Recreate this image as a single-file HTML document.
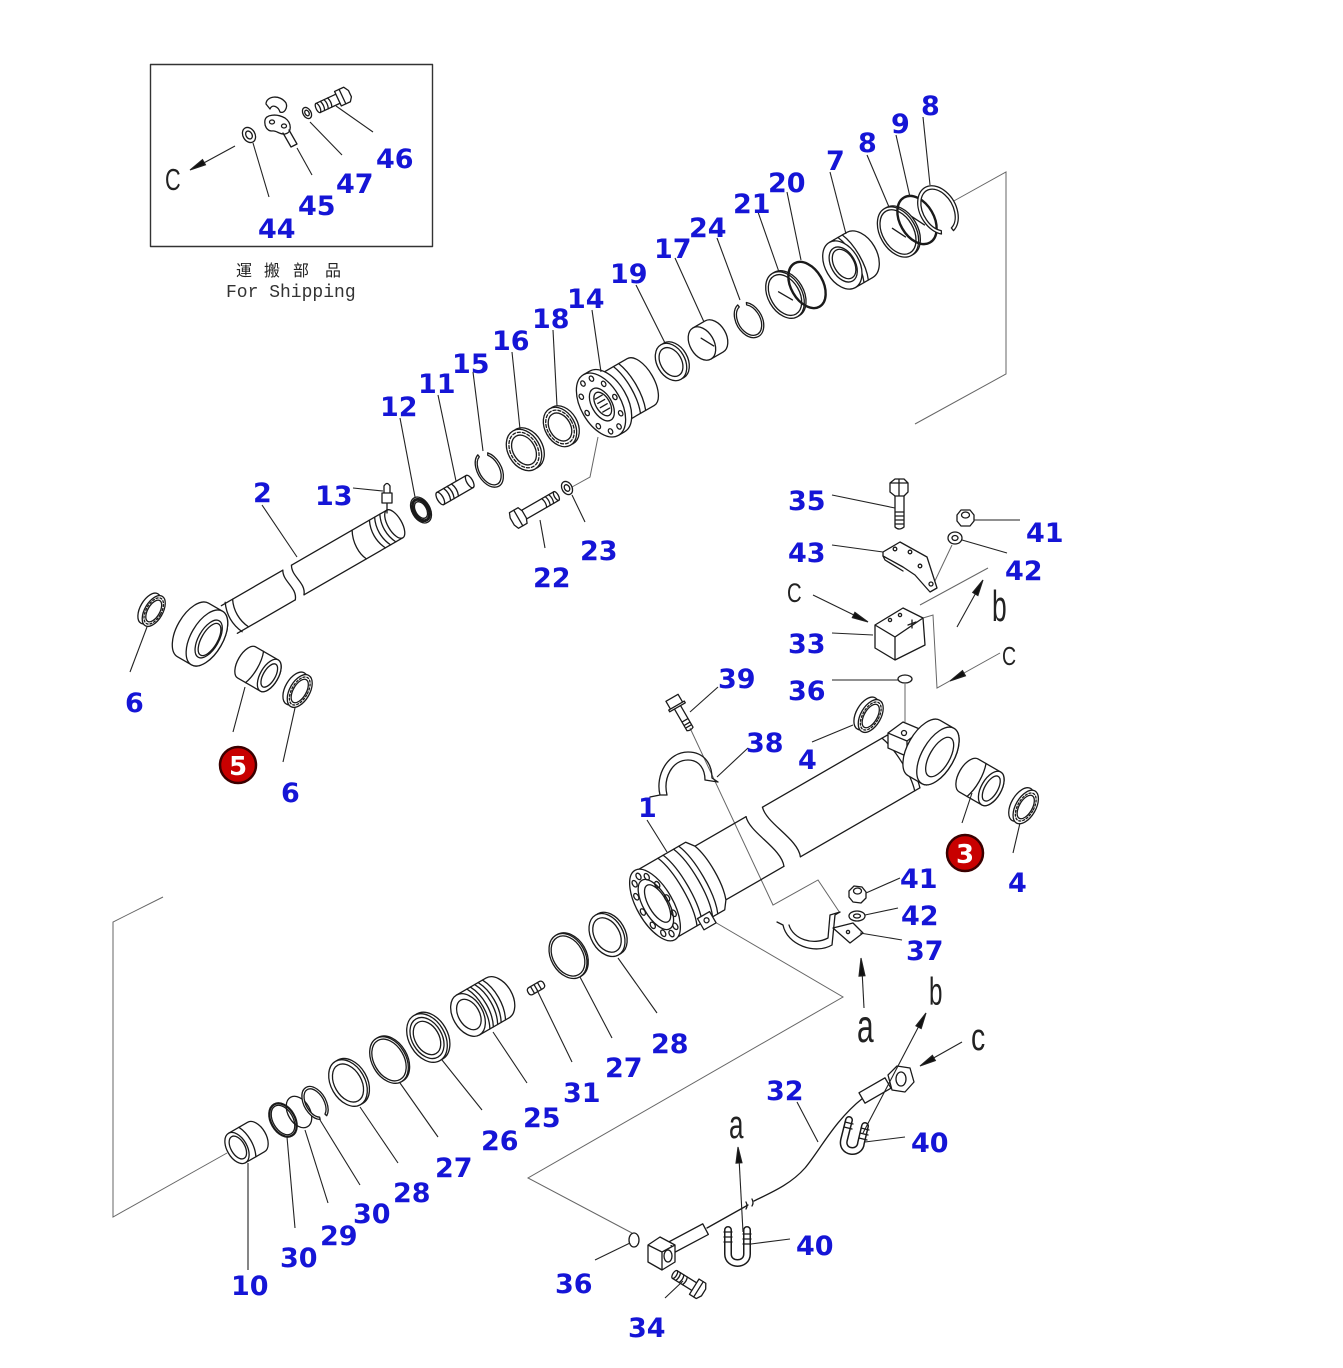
<!DOCTYPE html>
<html><head><meta charset="utf-8"><style>
html,body{margin:0;padding:0;background:#fff;}
svg{display:block}
.l{font-family:"DejaVu Sans","Liberation Sans",sans-serif;font-weight:bold;font-size:27px;fill:#1515d6}
.k{font-family:"Liberation Sans",sans-serif;fill:#222}
</style></head><body>
<svg width="1343" height="1368" viewBox="0 0 1343 1368" xmlns="http://www.w3.org/2000/svg">
<rect width="1343" height="1368" fill="#fff"/>

<!-- frame lines -->
<g fill="none" stroke="#666" stroke-width="1">
<polyline points="952,202 1006,172 1006,374 915,424"/>
<polyline points="598,437 590,477 572,487"/>
<polyline points="952,545 933,585"/>
<polyline points="988,568 920,605"/>
<polyline points="923,618 933,615 937,688 1000,653"/>
<polyline points="905,684 905,722"/>
<polyline points="690,728 773,905 818,880 840,913"/>
<polyline points="708,918 843,997 528,1178 632,1233"/>
<polyline points="163,897 113,922 113,1217 227,1153"/>
</g>

<g fill="none" stroke="#1a1a1a" stroke-width="1.3" stroke-linecap="round" stroke-linejoin="round">
<!-- inset -->
<rect x="150.5" y="64.5" width="282" height="182" stroke="#333" stroke-width="1.4"/>
<g transform="translate(249,135) rotate(-30)"><ellipse rx="6" ry="8"/><ellipse rx="3" ry="4.2"/></g>
<path d="M266,104 C266,96 280,94 286,103 C288,108 284,114 280,112 C278,106 272,104 270,109 Z"/>
<path d="M265,120 C266,115 276,113 285,118 C292,123 292,133 285,134 C280,135 276,130 272,131 C267,131 264,126 265,120 Z"/>
<ellipse cx="272" cy="122" rx="2.5" ry="2"/><ellipse cx="284" cy="126" rx="2.5" ry="2"/>
<path d="M283,133 L291,147 L297,144 L289,130"/>
<g transform="translate(307,113) rotate(-30)"><ellipse rx="4" ry="6"/><ellipse rx="2" ry="3"/></g>
<g transform="translate(318,108) rotate(-25)"><path d="M0,-5 L22,-5 M0,5 L22,5"/><ellipse rx="2" ry="5"/><path d="M5,-5 q2,5 0,10 M9,-5 q2,5 0,10 M13,-5 q2,5 0,10"/><path d="M22,-8 L32,-8 L35,-3 L35,4 L32,8 L22,8 Z" fill="#fff"/><path d="M27,-8 L27,8"/></g>

<!-- rod 2 shaft -->
<g transform="translate(225,622) rotate(-30)">
<path d="M5,-16 L76,-16 M5,16 L72,16"/>
<path d="M76,-16 C70,-6 80,6 72,16"/>
<path d="M86,-16 C80,-6 90,6 82,16"/>
<path d="M86,-16 L196,-16 M82,16 L196,16"/>
<path d="M156,-16 C150,-5 150,8 154,16"/>
<path d="M176,-16 C171,-6 171,6 176,16 M182,-16 C177,-6 177,6 182,16 M188,-16 C183,-6 183,6 188,16"/>
<ellipse cx="196" rx="7" ry="16" fill="#fff"/>
<path d="M10,-17 C5,-6 5,6 10,17 M18,-16 C13,-6 13,6 18,16"/>
</g>
<!-- rod eye -->
<g transform="translate(200,634) rotate(30)">
<path d="M-8,-31 A16,31 0 0 0 -8,31 L8,31 A16,31 0 0 0 8,-31 Z" fill="#fff"/>
<ellipse cx="8" rx="16" ry="31" fill="#fff"/>
<ellipse cx="10" rx="10" ry="21"/>
<ellipse cx="11" rx="8" ry="18"/>
</g>
<!-- 13 nipple -->
<path d="M384,493 L384,486 Q387,481 390,486 L390,493 M382,493 L392,493 L392,503 L382,503 Z M387,503 L387,513"/>
<!-- 6 left -->
<g transform="translate(152,610) rotate(30)"><ellipse cx="-3" rx="9" ry="17"/><ellipse cx="2" rx="9" ry="17" fill="#fff"/><ellipse cx="2" rx="6" ry="12"/><ellipse cx="2" rx="7.5" ry="14.5" stroke-dasharray="2 2"/></g>
<!-- 5 bushing -->
<g transform="translate(258,669) rotate(30)">
<path d="M-13,-18 A9,18 0 0 0 -13,18 L13,18 A9,18 0 0 0 13,-18 Z" fill="#fff"/>
<ellipse cx="13" rx="9" ry="18" fill="#fff"/><ellipse cx="13" rx="6" ry="13"/>
<path d="M-4,-18 C0,-8 0,8 -4,18"/>
</g>
<!-- 6 lower -->
<g transform="translate(298,690) rotate(30)"><ellipse cx="-3" rx="10" ry="18"/><ellipse cx="2" rx="10" ry="18" fill="#fff"/><ellipse cx="2" rx="6.5" ry="13"/><ellipse cx="2" rx="8" ry="15.5" stroke-dasharray="2 2"/></g>

<!-- 12 toothed ring -->
<g transform="translate(421,510) rotate(-30)"><ellipse rx="9" ry="14"/><ellipse rx="5.5" ry="9"/><ellipse rx="7.3" ry="11.5" stroke-width="3" stroke-dasharray="2 1.6"/></g>
<!-- 11 pin -->
<g transform="translate(455,490) rotate(-30)"><path d="M-17,-7 L17,-7 M-17,7 L17,7"/><ellipse cx="-17" rx="3" ry="7"/><ellipse cx="17" rx="3" ry="7"/><path d="M-9,-7 q3,7 0,14 M-5,-7 q3,7 0,14 M0,-7 q3,7 0,14"/></g>
<!-- 15 snap -->
<g transform="translate(489,470) rotate(-30)"><path d="M7.5,-15.5 A12,19 0 1 1 -2.1,-18.7 L-1.8,-16.3 A10,16.5 0 1 0 6.3,-13.4 Z"/></g>
<!-- 16 -->
<g transform="translate(524,450) rotate(-30)"><ellipse cx="3" rx="16" ry="22"/><ellipse rx="16" ry="22" fill="#fff"/><ellipse rx="11" ry="16"/><ellipse rx="13.5" ry="19" stroke-dasharray="3 2"/></g>
<!-- 18 -->
<g transform="translate(560,427) rotate(-30)"><ellipse cx="3" rx="15" ry="21"/><ellipse rx="15" ry="21" fill="#fff"/><ellipse rx="10.5" ry="15"/><ellipse rx="12.8" ry="18" stroke-dasharray="3 2"/></g>
<!-- 14 head -->
<g transform="translate(601,405) rotate(-30)">
<path d="M0,-27 L46,-27 A13,27 0 0 1 46,27 L0,27 Z" fill="#fff"/>
<path d="M30,-27 C36,-12 36,12 30,27 M36,-27 C42,-12 42,12 36,27"/>
<path d="M0,-35 L7,-35 A20,35 0 0 1 7,35 L0,35 Z" fill="#fff"/>
<ellipse rx="20" ry="35" fill="#fff"/>
<ellipse cx="1" rx="10" ry="18"/><ellipse cx="2" rx="7" ry="13"/>
<path d="M-2,-8 L6,-8 M-2,-3 L6,-3 M-2,2 L6,2 M-2,7 L6,7"/>
<g fill="none"><ellipse cx="16" cy="0" rx="2" ry="2.8"/><ellipse cx="12.9" cy="17" rx="2" ry="2.8"/><ellipse cx="4.9" cy="27.6" rx="2" ry="2.8"/><ellipse cx="-4.9" cy="27.6" rx="2" ry="2.8"/><ellipse cx="-12.9" cy="17" rx="2" ry="2.8"/><ellipse cx="-16" cy="0" rx="2" ry="2.8"/><ellipse cx="-12.9" cy="-17" rx="2" ry="2.8"/><ellipse cx="-4.9" cy="-27.6" rx="2" ry="2.8"/><ellipse cx="4.9" cy="-27.6" rx="2" ry="2.8"/><ellipse cx="12.9" cy="-17" rx="2" ry="2.8"/></g>
</g>
<!-- 22 bolt -->
<g transform="translate(520,517) rotate(-30)">
<path d="M2,-5 L42,-5 M2,5 L42,5"/><ellipse cx="42" rx="2" ry="5"/>
<path d="M28,-5 q2,5 0,10 M32,-5 q2,5 0,10 M36,-5 q2,5 0,10"/>
<path d="M-7,-9 L3,-9 L5,-4 L5,4 L3,9 L-7,9 L-9,4 L-9,-4 Z" fill="#fff"/><path d="M-2,-9 L-2,9"/>
</g>
<g transform="translate(567,488) rotate(-30)"><ellipse rx="5" ry="7"/><ellipse rx="2.5" ry="3.5"/></g>
<!-- 19 -->
<g transform="translate(671,362) rotate(-30)"><ellipse cx="3" rx="14" ry="20"/><ellipse rx="14" ry="20" fill="#fff"/><ellipse rx="10.5" ry="15.5"/></g>
<!-- 17 bushing -->
<g transform="translate(708,340) rotate(-30)"><path d="M-7,-18 L7,-18 A12,18 0 0 1 7,18 L-7,18 Z" fill="#fff"/><ellipse cx="-7" rx="12" ry="18" fill="#fff"/><path d="M-5,-5 L2,8"/></g>
<!-- 24 snap -->
<g transform="translate(749,320) rotate(-30)"><path d="M6.5,-16.5 A13,19 0 1 1 -2.3,-18.7 L-1.9,-16.2 A11,16.5 0 1 0 5.5,-14.3 Z"/></g>
<!-- 21 -->
<g transform="translate(785,295) rotate(-30)"><ellipse cx="2" rx="17" ry="25"/><ellipse rx="17" ry="25" fill="#fff"/><ellipse rx="14.5" ry="22"/><path d="M-4,-6 L4,8"/></g>
<!-- 20 -->
<g transform="translate(807,285) rotate(-30)"><ellipse rx="16" ry="25" stroke-width="2.4"/></g>
<!-- 7 seal -->
<g transform="translate(851,260) rotate(-30)">
<path d="M-10,-26 L10,-26 A17,26 0 0 1 10,26 L-10,26 Z" fill="#fff"/>
<path d="M-5,-26 C1,-12 1,12 -5,26 M0,-26 C6,-12 6,12 0,26 M5,-26 C11,-12 11,12 5,26"/>
<ellipse cx="-10" rx="17" ry="26" fill="#fff"/><ellipse cx="-9" rx="12" ry="19"/><ellipse cx="-8" rx="10" ry="16"/>
</g>
<!-- 8 -->
<g transform="translate(898,232) rotate(-30)"><ellipse cx="2" rx="18" ry="27"/><ellipse rx="18" ry="27" fill="#fff"/><ellipse rx="15.5" ry="24"/><path d="M-3,-6 L4,8"/></g>
<!-- 9 -->
<g transform="translate(917,220) rotate(-30)"><ellipse rx="17" ry="26" stroke-width="2.4"/><path d="M-3,-6 L4,8"/></g>
<!-- 8 top snap -->
<g transform="translate(938,210) rotate(-30)"><path d="M-9,22.5 A18,26 0 1 1 3.1,25.6 L2.6,22.2 A15,22.5 0 1 0 -7.5,19.5 Z" fill="#fff"/></g>

<!-- 35 bolt -->
<path d="M890,483 L895,479 L904,479 L908,483 L908,492 L904,496 L895,496 L890,492 Z M890,483 L908,483 M899,479 L899,496" fill="#fff"/>
<path d="M895,496 L895,527 Q899,531 904,527 L904,496 M895,512 L904,512 M895,516 L904,516 M895,520 L904,520 M895,524 L904,524"/>
<!-- 41 nut -->
<path d="M957,515 L961,510 L970,510 L974,515 L974,521 L970,526 L961,526 L957,521 Z" fill="#fff"/><ellipse cx="965.5" cy="515" rx="4" ry="3"/>
<!-- 42 washer -->
<ellipse cx="955" cy="538" rx="7" ry="6"/><ellipse cx="955" cy="538" rx="3" ry="2.5"/>
<!-- 43 bracket -->
<path d="M883,552 L900,542 L927,557 L937,588 L930,592 L915,575 L903,567 L883,556 Z" fill="#fff"/>
<path d="M883,556 L885,560 L903,571"/>
<circle cx="895" cy="549" r="1.8"/><circle cx="910" cy="552" r="1.8"/><circle cx="920" cy="566" r="1.8"/><circle cx="931" cy="584" r="2"/>
<!-- 33 box -->
<path d="M875,625 L903,608 L923,618 L895,637 Z M875,625 L875,648 L895,660 L895,637 M895,660 L925,645 L923,618" fill="#fff"/>
<circle cx="890" cy="620" r="1.6"/><circle cx="900" cy="615" r="1.6"/><path d="M908,625 L916,622 M912,620 L912,628"/>
<ellipse cx="905" cy="679" rx="7" ry="4"/>
<!-- 4 upper -->
<g transform="translate(869,715) rotate(30)"><ellipse cx="-3" rx="10" ry="18"/><ellipse cx="2" rx="10" ry="18" fill="#fff"/><ellipse cx="2" rx="6.5" ry="13"/><ellipse cx="2" rx="8" ry="15.5" stroke-dasharray="2 2"/></g>

<!-- 39 bolt -->
<g transform="translate(675,703) rotate(60)">
<path d="M5,-3.5 L30,-3.5 M5,3.5 L30,3.5 M30,-3.5 Q32,0 30,3.5 M20,-3.5 L20,3.5 M24,-3.5 L24,3.5 M27,-3.5 L27,3.5"/>
<path d="M-6,-7 L3,-7 L3,7 L-6,7 Z M3,-9 L5,-9 L5,9 L3,9 Z" fill="#fff"/>
</g>
<!-- 38 clamp -->
<path d="M660,795 C655,775 668,752 688,752 C705,752 712,765 712,778 M667,795 C663,778 672,760 688,760 C700,760 705,770 705,780 M660,795 L650,797 M667,795 L660,795 M705,780 L718,782 M712,778 L718,782"/>

<!-- cylinder 1 -->
<g transform="translate(655,905) rotate(-30)">
<path d="M142,-31 L286,-31 M150,31 L288,31"/>
<path d="M142,-31 C137,-15 157,14 150,31"/>
<path d="M62,-31 L123,-31 M62,31 L131,31"/>
<path d="M123,-31 C118,-15 138,14 131,31"/>
<path d="M0,-39 L58,-39 L64,-31 C70,-15 70,15 64,31 L58,39 L0,39 Z" fill="#fff"/>
<path d="M26,-39 C34,-20 34,20 26,39 M32,-39 C40,-20 40,20 32,39 M44,-39 C52,-20 52,20 44,39 M50,-39 C58,-20 58,20 50,39"/>
<ellipse rx="18" ry="40" fill="#fff"/>
<ellipse cx="1" rx="12.5" ry="28"/>
<ellipse cx="3" rx="9" ry="21"/>
<g><ellipse cx="14" cy="0" rx="2.2" ry="3.5"/><ellipse cx="12.1" cy="16.5" rx="2.2" ry="3.5"/><ellipse cx="7" cy="28.6" rx="2.2" ry="3.5"/><ellipse cx="0" cy="33" rx="2.2" ry="3.5"/><ellipse cx="-7" cy="28.6" rx="2.2" ry="3.5"/><ellipse cx="-12.1" cy="16.5" rx="2.2" ry="3.5"/><ellipse cx="-14" cy="0" rx="2.2" ry="3.5"/><ellipse cx="-12.1" cy="-16.5" rx="2.2" ry="3.5"/><ellipse cx="-7" cy="-28.6" rx="2.2" ry="3.5"/><ellipse cx="0" cy="-33" rx="2.2" ry="3.5"/><ellipse cx="7" cy="-28.6" rx="2.2" ry="3.5"/><ellipse cx="12.1" cy="-16.5" rx="2.2" ry="3.5"/></g>
<path d="M30,33 L44,33 L44,46 L30,46 Z" fill="#fff"/><circle cx="37" cy="39" r="2.5"/>
<path d="M280,-31 C286,-15 287,15 282,31 M286,-31 C292,-15 293,15 288,31"/>
</g>
<!-- cylinder eye -->
<path d="M888,733 L903,722 L922,730 L922,746 L906,756 L888,748 Z" fill="#fff"/>
<path d="M888,733 L907,741 L922,730 M907,741 L907,756"/><circle cx="904" cy="733" r="2.5"/>
<g transform="translate(931,752) rotate(30)">
<path d="M-8,-32 A16,32 0 0 0 -8,32 L8,32 A16,32 0 0 0 8,-32 Z" fill="#fff"/>
<ellipse cx="8" rx="16" ry="32" fill="#fff"/>
<ellipse cx="10" rx="10" ry="22"/>
</g>
<!-- 3 bushing -->
<g transform="translate(980,782) rotate(30)">
<path d="M-13,-19 A10,19 0 0 0 -13,19 L13,19 A10,19 0 0 0 13,-19 Z" fill="#fff"/>
<ellipse cx="13" rx="10" ry="19" fill="#fff"/><ellipse cx="13" rx="6.5" ry="14"/>
<path d="M-4,-19 C0,-8 0,8 -4,19"/>
</g>
<!-- 4 lower -->
<g transform="translate(1024,806) rotate(30)"><ellipse cx="-3" rx="10" ry="18.5"/><ellipse cx="2" rx="10" ry="18.5" fill="#fff"/><ellipse cx="2" rx="6.5" ry="13"/><ellipse cx="2" rx="8" ry="15.5" stroke-dasharray="2 2"/></g>
<!-- 41 lower nut -->
<path d="M849,891 L854,886 L862,887 L866,892 L866,898 L861,903 L853,902 L849,897 Z" fill="#fff"/><ellipse cx="857.5" cy="891" rx="4" ry="3"/>
<ellipse cx="857" cy="916" rx="8" ry="5"/><ellipse cx="857" cy="916" rx="3.5" ry="2"/>
<!-- 37 clamp -->
<path d="M783,925 C787,945 815,955 832,945 L835,915 M789,925 C793,939 813,946 828,938 L830,915 M783,925 L777,922 M830,915 L840,912 M835,915 L840,912"/>
<path d="M833,928 L853,923 L863,933 L850,943 Z" fill="#fff"/><circle cx="848" cy="932" r="1.6"/>

<!-- bottom rings -->
<g transform="translate(237,1148) rotate(-30)">
<path d="M0,-17 L22,-17 A10,17 0 0 1 22,17 L0,17 Z" fill="#fff"/>
<path d="M12,-17 C17,-7 17,7 12,17"/>
<ellipse rx="10" ry="17" fill="#fff"/><ellipse cx="1" rx="7" ry="12.5"/>
</g>
<g transform="translate(283,1120) rotate(-30)"><ellipse rx="12" ry="18" stroke-width="2.2"/><ellipse rx="10" ry="16"/></g>
<g transform="translate(299,1112) rotate(-30)"><ellipse rx="11" ry="17"/></g>
<g transform="translate(315,1103) rotate(-30)"><path d="M-3.8,16.9 A11,18 0 1 1 3.8,16.9 L3.1,14.6 A9,15.5 0 1 0 -3.1,14.6 Z" fill="#fff"/></g>
<g transform="translate(348,1083) rotate(-30)"><ellipse cx="2.5" rx="17" ry="25"/><ellipse rx="17" ry="25" fill="#fff"/><ellipse rx="13.5" ry="20.5"/></g>
<g transform="translate(389,1060) rotate(-30)"><ellipse cx="1.5" rx="17" ry="25"/><ellipse rx="17" ry="25" fill="#fff"/><ellipse rx="15" ry="22.5"/></g>
<g transform="translate(427,1038) rotate(-30)"><ellipse cx="3" rx="18" ry="26"/><ellipse rx="18" ry="26" fill="#fff"/><ellipse rx="15" ry="22"/><ellipse rx="12" ry="18"/></g>
<g transform="translate(468,1015) rotate(-30)">
<path d="M0,-23 L34,-23 A15,23 0 0 1 34,23 L0,23 Z" fill="#fff"/>
<path d="M12,-23 C19,-10 19,10 12,23 M16,-23 C23,-10 23,10 16,23 M21,-23 C28,-10 28,10 21,23 M25,-23 C32,-10 32,10 25,23 M30,-23 C37,-10 37,10 30,23"/>
<ellipse rx="15" ry="23" fill="#fff"/><ellipse cx="1" rx="10.5" ry="16.5"/>
</g>
<g transform="translate(536,988) rotate(-30)"><rect x="-9" y="-4" width="18" height="8" rx="3"/><path d="M-4,-4 L-4,4 M0,-4 L0,4 M4,-4 L4,4"/></g>
<g transform="translate(568,956) rotate(-30)"><ellipse cx="1.5" rx="17" ry="24"/><ellipse rx="17" ry="24" fill="#fff"/><ellipse rx="15" ry="21.5"/></g>
<g transform="translate(607,935) rotate(-30)"><ellipse cx="2.5" rx="16" ry="23"/><ellipse rx="16" ry="23" fill="#fff"/><ellipse rx="12.5" ry="18.5"/></g>

<!-- hose 32 -->
<path d="M707,1228 L748,1205 M754,1201 C770,1193 790,1185 805,1168 C820,1150 835,1120 863,1098"/>
<path d="M746,1209 q2,-3 0,-7 M752,1206 q2,-3 0,-7"/>
<g transform="translate(672,1247) rotate(-28)"><rect x="0" y="-6" width="38" height="12" fill="#fff"/></g>
<path d="M648,1245 L660,1237 L675,1245 L675,1262 L662,1270 L648,1262 Z M648,1245 L662,1252 L675,1245 M662,1252 L662,1270" fill="#fff"/>
<ellipse cx="668" cy="1256" rx="4" ry="6"/>
<g transform="translate(862,1098) rotate(-30)"><rect x="0" y="-6" width="30" height="12" fill="#fff"/></g>
<path d="M888,1075 L897,1066 L910,1068 L914,1082 L905,1092 L892,1090 Z" fill="#fff"/><ellipse cx="901" cy="1079" rx="5" ry="7"/>
<ellipse cx="634" cy="1240" rx="5" ry="7"/>
<!-- 40 fittings -->
<path d="M728,1230 L728,1254 C728,1266 747,1266 747,1254 L747,1230" stroke-width="8"/>
<path d="M728,1230 L728,1254 C728,1266 747,1266 747,1254 L747,1230" stroke="#fff" stroke-width="5"/>
<path d="M724,1232 L732,1232 M724,1237 L732,1237 M724,1242 L732,1242 M743,1234 L751,1234 M743,1239 L751,1239 M743,1244 L751,1244"/>
<path d="M849,1120 L844,1140 C841,1153 860,1155 861,1143 L865,1126" stroke-width="8"/>
<path d="M849,1120 L844,1140 C841,1153 860,1155 861,1143 L865,1126" stroke="#fff" stroke-width="5"/>
<path d="M845,1122 L853,1124 M844,1127 L852,1129 M861,1128 L869,1130 M860,1133 L868,1135 M859,1138 L867,1140"/>
<!-- 34 bolt -->
<g transform="translate(690,1284) rotate(32)">
<path d="M-18,-4.5 L5,-4.5 M-18,4.5 L5,4.5" /><ellipse cx="-18" rx="2" ry="4.5"/>
<path d="M-14,-4.5 q2,4.5 0,9 M-10,-4.5 q2,4.5 0,9 M-6,-4.5 q2,4.5 0,9"/>
<path d="M5,-9 L13,-9 L16,-4 L16,4 L13,9 L5,9 Z" fill="#fff"/><path d="M10,-9 L10,9"/>
</g>
</g>

<!-- leaders -->
<g stroke="#222" stroke-width="1.1" fill="none">
<line x1="253" y1="143" x2="269" y2="197"/><line x1="297" y1="148" x2="312" y2="175"/><line x1="310" y1="122" x2="342" y2="155"/><line x1="336" y1="106" x2="373" y2="132"/>
<line x1="923" y1="117" x2="930" y2="185"/><line x1="896" y1="135" x2="910" y2="197"/><line x1="867" y1="155" x2="889" y2="207"/><line x1="830" y1="172" x2="846" y2="234"/><line x1="787" y1="192" x2="801" y2="260"/><line x1="758" y1="212" x2="779" y2="272"/><line x1="717" y1="238" x2="740" y2="300"/><line x1="675" y1="258" x2="704" y2="322"/><line x1="636" y1="285" x2="665" y2="343"/><line x1="592" y1="310" x2="601" y2="372"/><line x1="553" y1="330" x2="557" y2="406"/><line x1="512" y1="352" x2="520" y2="429"/><line x1="473" y1="372" x2="483" y2="451"/><line x1="438" y1="395" x2="456" y2="481"/><line x1="400" y1="418" x2="415" y2="497"/>
<line x1="353" y1="488" x2="383" y2="491"/><line x1="262" y1="505" x2="297" y2="557"/><line x1="540" y1="520" x2="545" y2="548"/><line x1="572" y1="495" x2="585" y2="522"/>
<line x1="147" y1="627" x2="130" y2="672"/><line x1="245" y1="687" x2="233" y2="732"/><line x1="295" y1="708" x2="283" y2="762"/>
<line x1="832" y1="495" x2="895" y2="508"/><line x1="974" y1="520" x2="1020" y2="520"/><line x1="962" y1="540" x2="1007" y2="553"/><line x1="832" y1="545" x2="883" y2="552"/><line x1="832" y1="633" x2="873" y2="635"/><line x1="832" y1="680" x2="898" y2="680"/>
<line x1="718" y1="687" x2="690" y2="712"/><line x1="748" y1="748" x2="717" y2="777"/><line x1="812" y1="742" x2="853" y2="725"/><line x1="647" y1="820" x2="667" y2="852"/><line x1="972" y1="793" x2="962" y2="823"/><line x1="1020" y1="823" x2="1013" y2="853"/><line x1="866" y1="893" x2="900" y2="878"/><line x1="865" y1="915" x2="898" y2="908"/><line x1="860" y1="933" x2="902" y2="940"/>
<line x1="248" y1="1163" x2="248" y2="1270"/><line x1="287" y1="1137" x2="295" y2="1228"/><line x1="305" y1="1130" x2="328" y2="1203"/><line x1="320" y1="1120" x2="360" y2="1185"/><line x1="360" y1="1107" x2="398" y2="1163"/><line x1="400" y1="1083" x2="438" y2="1137"/><line x1="442" y1="1060" x2="482" y2="1110"/><line x1="493" y1="1032" x2="527" y2="1083"/><line x1="537" y1="990" x2="572" y2="1062"/><line x1="580" y1="977" x2="612" y2="1038"/><line x1="618" y1="958" x2="657" y2="1013"/>
<line x1="797" y1="1102" x2="818" y2="1142"/><line x1="865" y1="1142" x2="905" y2="1137"/><line x1="751" y1="1244" x2="790" y2="1239"/><line x1="595" y1="1260" x2="630" y2="1243"/><line x1="665" y1="1298" x2="683" y2="1281"/>
</g>

<!-- arrows -->
<g stroke="#222" stroke-width="1.1">
<line x1="235" y1="146" x2="200" y2="165"/><polygon points="190,170 205.5,164.8 202.5,159.6" fill="#111"/>
<line x1="813" y1="595" x2="858" y2="617"/><polygon points="868,622 852.3,617.7 854.9,612.3" fill="#111"/>
<line x1="957" y1="627" x2="978" y2="589"/><polygon points="983,580 977.9,595.5 972.7,592.5" fill="#111"/>
<polygon points="950,681 965.5,675.8 962.5,670.6" fill="#111"/>
<line x1="864" y1="1008" x2="862" y2="970"/><polygon points="861,958 865,975.8 859,976.2" fill="#111"/>
<line x1="863" y1="1133" x2="921" y2="1022"/><polygon points="926,1013 921.2,1028.6 915.9,1025.8" fill="#111"/>
<line x1="962" y1="1042" x2="930" y2="1060"/><polygon points="920,1066 935.4,1060.6 932.4,1055.4" fill="#111"/>
<line x1="743" y1="1232" x2="739" y2="1158"/><polygon points="738,1147 742,1162.8 736,1163.2" fill="#111"/>
</g>

<!-- black letters -->
<text class="k" transform="translate(165,190) scale(0.7,1)" font-size="31">C</text>
<text class="k" transform="translate(787,602) scale(0.75,1)" font-size="27">C</text>
<text class="k" transform="translate(992,621) scale(0.6,1)" font-size="44">b</text>
<text class="k" transform="translate(1002,665) scale(0.75,1)" font-size="26">C</text>
<text class="k" transform="translate(857,1042) scale(0.65,1)" font-size="46">a</text>
<text class="k" transform="translate(929,1005) scale(0.62,1)" font-size="39">b</text>
<text class="k" transform="translate(971,1050) scale(0.75,1)" font-size="38">c</text>
<text class="k" transform="translate(729,1138) scale(0.65,1)" font-size="40">a</text>

<text class="k" x="236" y="276" font-size="16" font-family="'Liberation Sans','Noto Sans CJK JP',sans-serif">運</text>
<text class="k" x="264" y="276" font-size="16" font-family="'Liberation Sans','Noto Sans CJK JP',sans-serif">搬</text>
<text class="k" x="293" y="276" font-size="16" font-family="'Liberation Sans','Noto Sans CJK JP',sans-serif">部</text>
<text class="k" x="325" y="276" font-size="16" font-family="'Liberation Sans','Noto Sans CJK JP',sans-serif">品</text>
<text x="226" y="297" font-size="18" fill="#333" font-family="'Liberation Mono',monospace">For Shipping</text>

<!-- blue labels -->
<g class="l">
<text x="376" y="168">46</text><text x="336" y="193">47</text><text x="298" y="215">45</text><text x="258" y="238">44</text>
<text x="921" y="115">8</text><text x="891" y="133">9</text><text x="858" y="152">8</text><text x="826" y="170">7</text>
<text x="768" y="192">20</text><text x="733" y="213">21</text><text x="689" y="237">24</text><text x="654" y="258">17</text>
<text x="610" y="283">19</text><text x="567" y="308">14</text><text x="532" y="328">18</text><text x="492" y="350">16</text>
<text x="452" y="373">15</text><text x="418" y="393">11</text><text x="380" y="416">12</text>
<text x="253" y="502">2</text><text x="315" y="505">13</text><text x="533" y="587">22</text><text x="580" y="560">23</text>
<text x="125" y="712">6</text><text x="281" y="802">6</text>
<text x="788" y="510">35</text><text x="1026" y="542">41</text><text x="788" y="562">43</text><text x="1005" y="580">42</text>
<text x="788" y="653">33</text><text x="788" y="700">36</text><text x="718" y="688">39</text><text x="746" y="752">38</text>
<text x="798" y="769">4</text><text x="638" y="817">1</text><text x="1008" y="892">4</text>
<text x="900" y="888">41</text><text x="901" y="925">42</text><text x="906" y="960">37</text>
<text x="651" y="1053">28</text><text x="605" y="1077">27</text><text x="563" y="1102">31</text><text x="523" y="1127">25</text>
<text x="481" y="1150">26</text><text x="435" y="1177">27</text><text x="393" y="1202">28</text><text x="353" y="1223">30</text>
<text x="320" y="1245">29</text><text x="280" y="1267">30</text><text x="231" y="1295">10</text>
<text x="766" y="1100">32</text><text x="911" y="1152">40</text><text x="796" y="1255">40</text>
<text x="555" y="1293">36</text><text x="628" y="1337">34</text>
</g>

<!-- red callouts -->
<circle cx="238" cy="765" r="18" fill="#c80000" stroke="#3a0000" stroke-width="2.5"/>
<text x="238" y="775" text-anchor="middle" fill="#fff" font-weight="bold" font-size="26" font-family="'DejaVu Sans',sans-serif">5</text>
<circle cx="965" cy="853" r="18" fill="#c80000" stroke="#3a0000" stroke-width="2.5"/>
<text x="965" y="863" text-anchor="middle" fill="#fff" font-weight="bold" font-size="26" font-family="'DejaVu Sans',sans-serif">3</text>
</svg>
</body></html>
